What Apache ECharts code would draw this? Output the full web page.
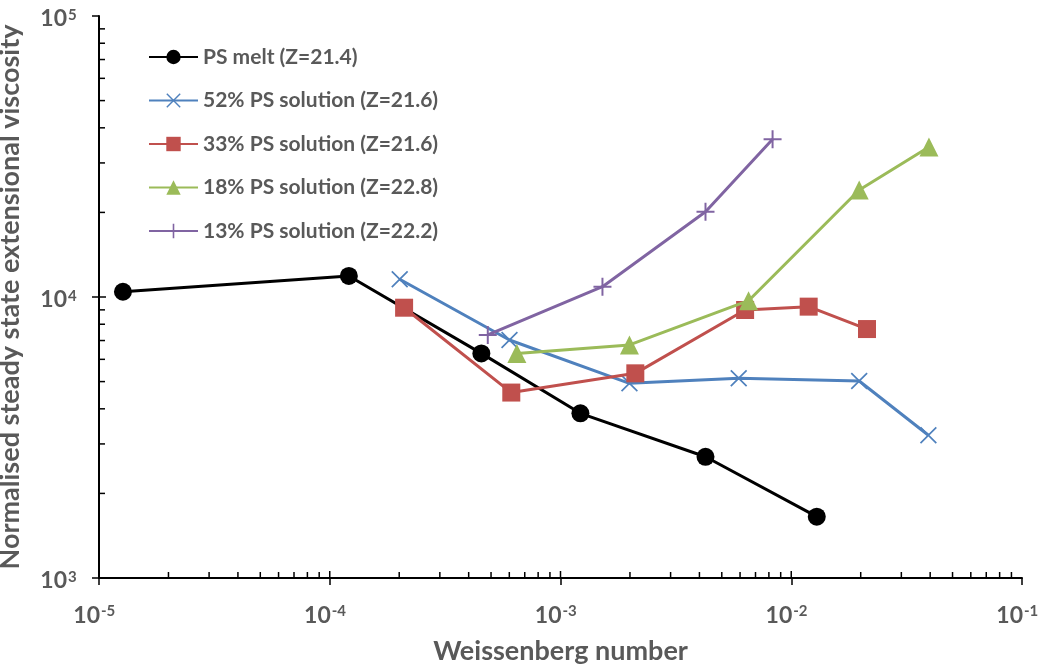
<!DOCTYPE html>
<html>
<head>
<meta charset="utf-8">
<script src="https://cdn.jsdelivr.net/npm/echarts@6/dist/echarts.min.js"></script>
<style>
  html, body { margin: 0; padding: 0; background: #fff; }
  #chart { width: 1044px; height: 668px; }
</style>
</head>
<body>
<div id="chart"></div>
<script>
// series names (legend order)
var seriesNames = [
    'PS melt (Z=21.4)',
    '52% PS solution (Z=21.6)',
    '33% PS solution (Z=21.6)',
    '18% PS solution (Z=22.8)',
    '13% PS solution (Z=22.2)'
];

// Weissenberg number / normalised viscosity
var meltWi = [1.27e-5, 1.21e-4, 4.54e-4, 1.22e-3, 4.25e-3, 1.29e-2];
var meltEta = [10440, 11880, 6300, 3855, 2700, 1653];

var ps52Wi = [2.01e-4, 6.01e-4, 1.99e-3, 5.92e-3, 1.97e-2, 3.93e-2];
var ps52Eta = [11560, 7030, 4930, 5140, 5025, 3220];

var ps33Wi = [2.10e-4, 6.12e-4, 2.11e-3, 6.31e-3, 1.19e-2, 2.13e-2];
var ps33Eta = [9160, 4570, 5350, 8990, 9240, 7690];

var ps18Wi = [6.47e-4, 1.99e-3, 6.53e-3, 1.97e-2, 3.95e-2];
var ps18Eta = [6300, 6750, 9700, 24040, 34200];

var ps13Wi = [4.84e-4, 1.52e-3, 4.25e-3, 8.30e-3];
var ps13Eta = [7330, 10880, 20120, 36400];

// axis ranges (decades) -> tick labels 10^n
var xDecades = [-5, -4, -3, -2, -1];
var yDecades = [3, 4, 5];

var colors = ['#000000', '#4f81bd', '#c0504d', '#9bbb59', '#8064a2'];
var textGrey = '#595959';

var crossPath = 'path://M0,0.7L0.7,0L5,4.3L9.3,0L10,0.7L5.7,5L10,9.3L9.3,10L5,5.7L0.7,10L0,9.3L4.3,5Z';
var plusPath = 'path://M4.45,0H5.55V4.45H10V5.55H5.55V10H4.45V5.55H0V4.45H4.45Z';

function pairs(xs, ys) {
    var out = [];
    for (var i = 0; i < xs.length; i++) out.push([xs[i], ys[i]]);
    return out;
}

// inner ticks (minor 2..9 and major), axes only draw the outer part
var xInnerTicks = [], yInnerTicks = [];
for (var i = 0; i < xDecades.length - 1; i++) {
    for (var m = 1; m <= 9; m++) {
        if (m === 1 && i === 0) continue;
        xInnerTicks.push([m * Math.pow(10, xDecades[i]), 1000, m === 1 ? 1 : 0]);
    }
}
for (var j = 0; j < yDecades.length - 1; j++) {
    for (var k = 1; k <= 9; k++) {
        if (k === 1 && j === 0) continue;
        yInnerTicks.push([1e-5, k * Math.pow(10, yDecades[j]), k === 1 ? 1 : 0]);
    }
}
var xLabelData = xDecades.map(function (e) { return [Math.pow(10, e), 1000, e]; });
var yLabelData = yDecades.map(function (e) { return [1e-5, Math.pow(10, e), e]; });

var myChart = echarts.init(document.getElementById('chart'));

var lineSeries = [
    { data: pairs(meltWi, meltEta), symbol: 'circle', symbolSize: 18 },
    { data: pairs(ps52Wi, ps52Eta), symbol: crossPath, symbolSize: 17 },
    { data: pairs(ps33Wi, ps33Eta), symbol: 'rect', symbolSize: 18 },
    { data: pairs(ps18Wi, ps18Eta), symbol: 'triangle', symbolSize: 19 },
    { data: pairs(ps13Wi, ps13Eta), symbol: plusPath, symbolSize: 18 }
].map(function (s, idx) {
    return {
        name: seriesNames[idx],
        type: 'line',
        data: s.data,
        symbol: s.symbol,
        symbolSize: s.symbolSize,
        showAllSymbol: true,
        lineStyle: { color: colors[idx], width: 3 },
        itemStyle: { color: colors[idx] },
        z: 3 + idx
    };
});

function tickLine(dir) {
    return function (params, api) {
        var p = api.coord([api.value(0), api.value(1)]);
        var len = api.value(2) ? 7 : 6;
        var shape = dir === 'x'
            ? { x1: p[0], y1: p[1], x2: p[0], y2: p[1] - len }
            : { x1: p[0], y1: p[1], x2: p[0] + len, y2: p[1] };
        return { type: 'line', shape: shape, style: { stroke: '#000', lineWidth: 1.5 } };
    };
}

// "10" plus superscript exponent, as two plain text pieces
function tickText(dir) {
    return function (params, api) {
        var p = api.coord([api.value(0), api.value(1)]);
        var e = api.value(2);
        var isX = dir === 'x';
        var x0 = isX ? p[0] + 1 : p[0] - 32;
        var yBase = isX ? p[1] + 38 : p[1] + 3;
        var ySup = isX ? p[1] + 33 : p[1] - 1;
        return {
            type: 'group',
            children: [
                { type: 'text', x: x0, y: yBase, style: {
                    text: '10', fill: textGrey, font: 'bold 23px Lato',
                    align: 'right', verticalAlign: 'middle' } },
                { type: 'text', x: x0 + 1, y: ySup, style: {
                    text: String(e), fill: textGrey, font: 'bold 15px Lato',
                    align: 'left', verticalAlign: 'middle' } }
            ]
        };
    };
}

var option = {
    animation: false,
    backgroundColor: '#fff',
    grid: { left: 99, right: 22, top: 16, bottom: 90, containLabel: false, outerBoundsMode: 'none' },
    legend: {
        orient: 'vertical',
        left: 143,
        top: 41,
        itemWidth: 49,
        itemHeight: 18,
        itemGap: 21.5,
        data: seriesNames,
        textStyle: { color: textGrey, fontFamily: 'Lato', fontWeight: 'bold', fontSize: 21, lineHeight: 22 }
    },
    xAxis: {
        type: 'log',
        logBase: 10,
        min: 1e-5,
        max: 1e-1,
        name: 'Weissenberg number',
        nameLocation: 'middle',
        nameGap: 60,
        nameTextStyle: { color: textGrey, fontFamily: 'Lato', fontWeight: 'bold', fontSize: 27 },
        axisLine: { lineStyle: { color: '#000', width: 2 } },
        axisTick: { length: 7, lineStyle: { color: '#000', width: 1.5 } },
        splitLine: { show: false },
        axisLabel: { show: false }
    },
    yAxis: {
        type: 'log',
        logBase: 10,
        min: 1e3,
        max: 1e5,
        name: 'Normalised steady state extensional viscosity',
        nameLocation: 'middle',
        nameGap: 75,
        nameTextStyle: { color: textGrey, fontFamily: 'Lato', fontWeight: 'bold', fontSize: 27 },
        axisLine: { lineStyle: { color: '#000', width: 2 } },
        axisTick: { length: 7, lineStyle: { color: '#000', width: 1.5 } },
        splitLine: { show: false },
        axisLabel: { show: false }
    },
    series: lineSeries.concat([
        { type: 'custom', silent: true, clip: false, data: xInnerTicks, renderItem: tickLine('x'), z: 1 },
        { type: 'custom', silent: true, clip: false, data: yInnerTicks, renderItem: tickLine('y'), z: 1 },
        { type: 'custom', silent: true, clip: false, data: xLabelData, renderItem: tickText('x'), z: 1 },
        { type: 'custom', silent: true, clip: false, data: yLabelData, renderItem: tickText('y'), z: 1 }
    ])
};

myChart.setOption(option);
</script>
</body>
</html>
